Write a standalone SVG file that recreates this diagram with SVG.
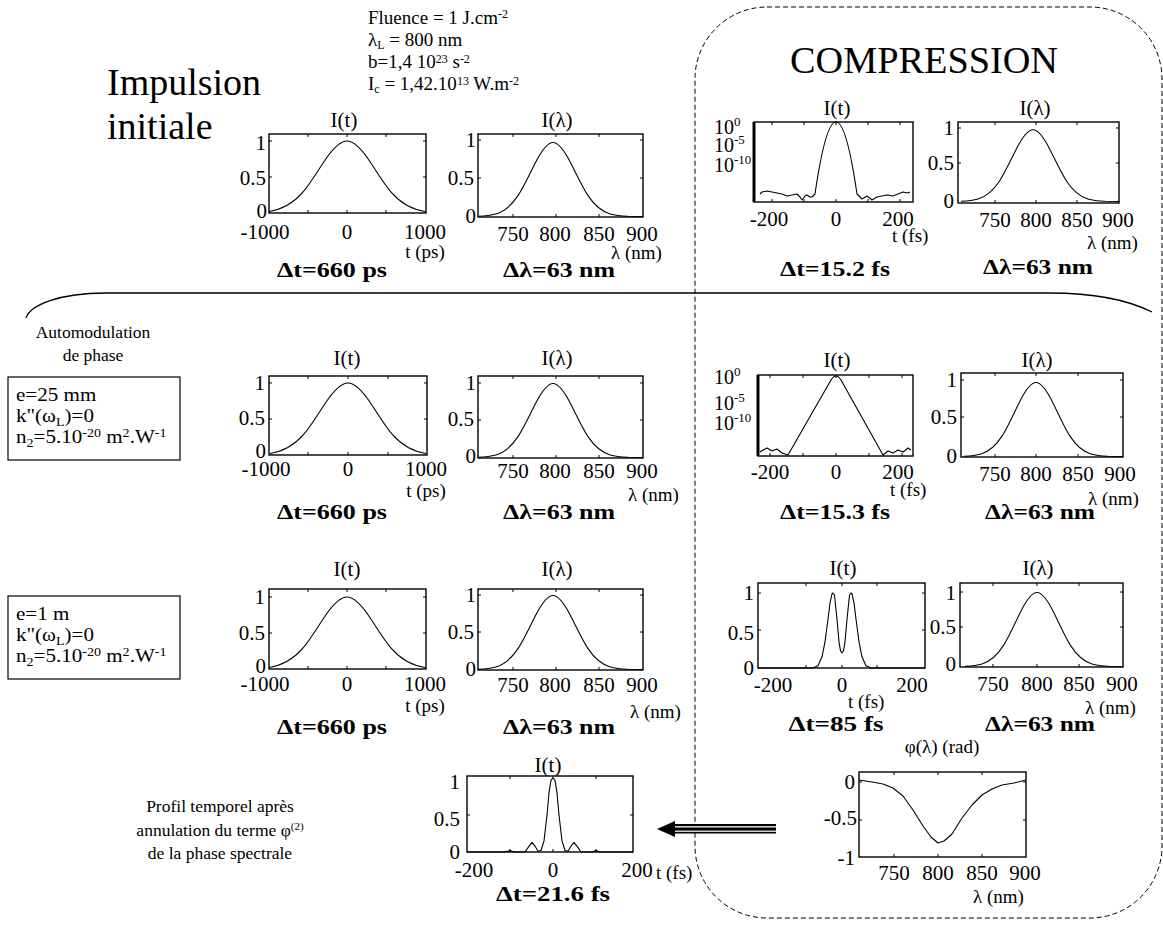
<svg xmlns="http://www.w3.org/2000/svg" width="1163" height="925" viewBox="0 0 1163 925" font-family="'Liberation Serif', 'DejaVu Serif', serif">
<style>
text{font-family:'Liberation Serif','DejaVu Serif','Noto Serif',serif;fill:#000}
.tl{font-size:20px}
.tc{font-size:21px;text-anchor:middle}
.te{font-size:21px;text-anchor:end}
.ti{font-size:21px;text-anchor:middle}
.ax{font-size:19px}
.axc{font-size:19px;text-anchor:middle}
.bd{font-size:20px;font-weight:bold;text-anchor:middle}
.nt{font-size:19px}
.bt{font-size:18px}
.ntc{font-size:17.5px;text-anchor:middle}
.big{font-size:38px}
.fr{fill:none;stroke:#000;stroke-width:1.4}
.lg{fill:none;stroke:#000;stroke-width:3}
.tk{fill:none;stroke:#000;stroke-width:1}
.cv{fill:none;stroke:#000;stroke-width:1.1;stroke-linejoin:round}
.bx{fill:#fff;stroke:#000;stroke-width:1.2}
.sep{fill:none;stroke:#000;stroke-width:1.3}
.dash{fill:none;stroke:#000;stroke-width:1;stroke-dasharray:5,3}
</style>
<defs>
<path id="gT" d="M-78,-1.49 C-66.93,-3.12 -55.87,-7.36 -44.8,-20.02 C-37.33,-28.56 -29.87,-41.13 -22.4,-52.28 C-14.93,-63.43 -7.47,-72 0,-72 C7.47,-72 14.93,-63.43 22.4,-52.28 C29.87,-41.13 37.33,-28.56 44.8,-20.02 C55.87,-7.36 66.93,-3.12 78,-1.49"/>
<path id="gL" d="M-75,-0.2 C-69.07,-0.42 -63.13,-0.75 -57.2,-2.52 C-49.87,-4.70 -42.53,-9.6 -35.2,-20.57 C-29.33,-29.35 -23.47,-42.27 -17.6,-53.73 C-11.73,-65.19 -5.87,-74 0,-74 C5.87,-74 11.73,-65.19 17.6,-53.73 C23.47,-42.27 29.33,-29.35 35.2,-20.57 C42.53,-9.6 49.87,-4.70 57.2,-2.52 C63.13,-0.75 69.07,-0.42 75,-0.2 L90,0"/>
</defs>

<g id="compression-region">
<rect class="dash" x="695" y="7" width="467" height="911" rx="72" ry="72"/>
<text class="big" x="790" y="73" textLength="268" lengthAdjust="spacingAndGlyphs">COMPRESSION</text>
</g>

<g id="title-initial">
<text class="big" x="107" y="95">Impulsion</text>
<text class="big" x="107" y="139">initiale</text>
</g>

<g id="params">
<text class="nt" x="368" y="24">Fluence = 1 J.cm<tspan dy="-6" font-size="12">-2</tspan></text>
<text class="nt" x="368" y="46">λ<tspan dy="3" font-size="12">L</tspan><tspan dy="-3"> = 800 nm</tspan></text>
<text class="nt" x="368" y="68">b=1,4 10<tspan dy="-5" font-size="12">23</tspan><tspan dy="5"> s</tspan><tspan dy="-5" font-size="12">-2</tspan></text>
<text class="nt" x="368" y="90">I<tspan dy="3" font-size="12">c</tspan><tspan dy="-3"> = 1,42.10</tspan><tspan dy="-5" font-size="12">13</tspan><tspan dy="5"> W.m</tspan><tspan dy="-5" font-size="12">-2</tspan></text>
</g>

<!-- Row 1 -->
<g id="plot-r1-It">
<text class="ti" x="344" y="127">I(t)</text>
<rect class="fr" x="269" y="134" width="157" height="79"/>
<path class="tk" d="M308,134v3M347,134v3M386,134v3M308,213v-3M347,213v-3M386,213v-3M269,177h3M269,141h3M426,177h-3M426,141h-3"/>
<use href="#gT" x="347" y="213" class="cv"/>
<text class="te" x="266" y="150">1</text>
<text class="te" x="266" y="185">0.5</text>
<text class="te" x="267" y="218">0</text>
<text class="tc" x="265" y="239">-1000</text>
<text class="tc" x="347" y="239">0</text>
<text class="tc" x="425" y="239">1000</text>
<text class="axc" x="425" y="258">t (ps)</text>
<text class="bd" x="332" y="277" textLength="110" lengthAdjust="spacingAndGlyphs">Δt=660 ps</text>
</g>

<g id="plot-r1-Il">
<text class="ti" x="557" y="127">I(λ)</text>
<rect class="fr" x="478" y="134" width="165" height="83"/>
<path class="tk" d="M513,134v3M556,134v3M599,134v3M513,217v-3M556,217v-3M599,217v-3M478,178h3M478,140h3M643,178h-3M643,140h-3"/>
<use href="#gL" x="553" y="216.5" class="cv"/>
<text class="te" x="476" y="147">1</text>
<text class="te" x="474" y="185">0.5</text>
<text class="te" x="476" y="223">0</text>
<text class="tc" x="513" y="241">750</text>
<text class="tc" x="555" y="241">800</text>
<text class="tc" x="599" y="241">850</text>
<text class="tc" x="642" y="241">900</text>
<text class="ax" x="611" y="259">λ (nm)</text>
<text class="bd" x="559" y="277" textLength="112" lengthAdjust="spacingAndGlyphs">Δλ=63 nm</text>
</g>

<g id="plot-c1-It">
<text class="ti" x="837" y="115">I(t)</text>
<rect class="fr" x="754" y="122" width="159" height="80"/>
<line class="lg" x1="754" y1="122" x2="754" y2="202"/>
<path class="tk" d="M772,122v3M804,122v3M836,122v3M868,122v3M900,122v3M772,202v-3M804,202v-3M836,202v-3M868,202v-3M900,202v-3"/>
<path class="cv" d="M760,194 L762,192 L767,191 L772,192 L777,193 L782,194 L787,196 L792,195 L797,194 L800,197 L802,200 L805,196 L807,195 L810,197 L812,197 L815,194 C822,146 829,122 836,122 C843,122 850,146 857,194 L862,199 L867,196 L872,200 L877,197 L882,196 L887,195 L893,196 L898,194 L903,192 L908,193 L910,192"/>
<text class="tl" x="714" y="134">10<tspan dy="-8" font-size="13">0</tspan></text>
<text class="tl" x="714" y="152">10<tspan dy="-8" font-size="13">-5</tspan></text>
<text class="tl" x="714" y="172">10<tspan dy="-8" font-size="13">-10</tspan></text>
<text class="tc" x="769" y="226">-200</text>
<text class="tc" x="836" y="226">0</text>
<text class="tc" x="898" y="226">200</text>
<text class="ax" x="892" y="242">t (fs)</text>
<text class="bd" x="835" y="276" textLength="110" lengthAdjust="spacingAndGlyphs">Δt=15.2 fs</text>
</g>

<g id="plot-c1-Il">
<text class="ti" x="1035" y="115">I(λ)</text>
<rect class="fr" x="958" y="122" width="161" height="81"/>
<path class="tk" d="M995,122v3M1036,122v3M1077,122v3M995,203v-3M1036,203v-3M1077,203v-3M958,163h3M958,128h3M1119,163h-3M1119,128h-3"/>
<use href="#gL" transform="translate(1033,201.5) scale(0.96,0.97)" class="cv"/>
<text class="te" x="954" y="135">1</text>
<text class="te" x="954" y="170">0.5</text>
<text class="te" x="954" y="208">0</text>
<text class="tc" x="995" y="227">750</text>
<text class="tc" x="1036" y="227">800</text>
<text class="tc" x="1077" y="227">850</text>
<text class="tc" x="1118" y="227">900</text>
<text class="ax" x="1087" y="249">λ (nm)</text>
<text class="bd" x="1038" y="274" textLength="110" lengthAdjust="spacingAndGlyphs">Δλ=63 nm</text>
</g>

<!-- Row 2 -->
<g id="label-automodulation">
<text class="ntc" x="93" y="338">Automodulation</text>
<text class="ntc" x="93" y="361">de phase</text>
</g>

<g id="box-25mm">
<rect class="bx" x="8" y="377" width="172" height="83"/>
<g transform="translate(16,0) scale(1.17,1) translate(-16,0)">
<text class="bt" x="16" y="401">e=25 mm</text>
<text class="bt" x="16" y="422">k"(ω<tspan dy="4" font-size="12">L</tspan><tspan dy="-4">)=0</tspan></text>
<text class="bt" x="16" y="443">n<tspan dy="4" font-size="12">2</tspan><tspan dy="-4">=5.10</tspan><tspan dy="-6" font-size="12">-20</tspan><tspan dy="6"> m</tspan><tspan dy="-6" font-size="12">2</tspan><tspan dy="6">.W</tspan><tspan dy="-6" font-size="12">-1</tspan></text>
</g>
</g>

<g id="plot-r2-It">
<text class="ti" x="347" y="365">I(t)</text>
<rect class="fr" x="269" y="376" width="158" height="79"/>
<path class="tk" d="M308,376v3M348,376v3M388,376v3M308,455v-3M348,455v-3M388,455v-3M269,419h3M269,383h3M427,419h-3M427,383h-3"/>
<use href="#gT" x="348" y="455" class="cv"/>
<text class="te" x="265" y="390">1</text>
<text class="te" x="265" y="425">0.5</text>
<text class="te" x="266" y="458">0</text>
<text class="tc" x="266" y="476">-1000</text>
<text class="tc" x="348" y="476">0</text>
<text class="tc" x="426" y="476">1000</text>
<text class="axc" x="426" y="497">t (ps)</text>
<text class="bd" x="332" y="519" textLength="110" lengthAdjust="spacingAndGlyphs">Δt=660 ps</text>
</g>

<g id="plot-r2-Il">
<text class="ti" x="557" y="365">I(λ)</text>
<rect class="fr" x="478" y="376" width="165" height="82"/>
<path class="tk" d="M513,376v3M556,376v3M599,376v3M513,458v-3M556,458v-3M599,458v-3M478,420h3M478,383h3M643,420h-3M643,383h-3"/>
<use href="#gL" x="553" y="457.5" class="cv"/>
<text class="te" x="476" y="390">1</text>
<text class="te" x="474" y="426">0.5</text>
<text class="te" x="476" y="463">0</text>
<text class="tc" x="513" y="478">750</text>
<text class="tc" x="555" y="478">800</text>
<text class="tc" x="599" y="478">850</text>
<text class="tc" x="642" y="478">900</text>
<text class="ax" x="628" y="501">λ (nm)</text>
<text class="bd" x="559" y="519" textLength="112" lengthAdjust="spacingAndGlyphs">Δλ=63 nm</text>
</g>

<g id="plot-c2-It">
<text class="ti" x="837" y="367">I(t)</text>
<rect class="fr" x="758" y="375" width="155" height="81"/>
<line class="lg" x1="758" y1="375" x2="758" y2="456"/>
<path class="tk" d="M770,375v3M803,375v3M836,375v3M869,375v3M902,375v3M770,456v-3M803,456v-3M836,456v-3M869,456v-3M902,456v-3"/>
<path class="cv" d="M760,452 L763,450 L767,448 L772,451 L777,449 L782,453 L788,455 L831,380 Q836,372 841,380 L883,455 L888,451 L893,453 L898,450 L903,452 L908,448 L911,450"/>
<text class="tl" x="714" y="384">10<tspan dy="-8" font-size="13">0</tspan></text>
<text class="tl" x="714" y="410">10<tspan dy="-8" font-size="13">-5</tspan></text>
<text class="tl" x="714" y="430">10<tspan dy="-8" font-size="13">-10</tspan></text>
<text class="tc" x="770" y="479">-200</text>
<text class="tc" x="836" y="479">0</text>
<text class="tc" x="898" y="479">200</text>
<text class="ax" x="890" y="496">t (fs)</text>
<text class="bd" x="835" y="519" textLength="110" lengthAdjust="spacingAndGlyphs">Δt=15.3 fs</text>
</g>

<g id="plot-c2-Il">
<text class="ti" x="1037" y="367">I(λ)</text>
<rect class="fr" x="961" y="373" width="162" height="84"/>
<path class="tk" d="M995,373v3M1036,373v3M1078,373v3M995,457v-3M1036,457v-3M1078,457v-3M961,417h3M961,380h3M1123,417h-3M1123,380h-3"/>
<use href="#gL" transform="translate(1036,456.5) scale(0.96,1)" class="cv"/>
<text class="te" x="957" y="387">1</text>
<text class="te" x="957" y="424">0.5</text>
<text class="te" x="957" y="463">0</text>
<text class="tc" x="995" y="481">750</text>
<text class="tc" x="1036" y="481">800</text>
<text class="tc" x="1078" y="481">850</text>
<text class="tc" x="1120" y="481">900</text>
<text class="ax" x="1088" y="505">λ (nm)</text>
<text class="bd" x="1040" y="519" textLength="110" lengthAdjust="spacingAndGlyphs">Δλ=63 nm</text>
</g>

<!-- Row 3 -->
<g id="box-1m">
<rect class="bx" x="8" y="596" width="172" height="83"/>
<g transform="translate(16,0) scale(1.17,1) translate(-16,0)">
<text class="bt" x="16" y="620">e=1 m</text>
<text class="bt" x="16" y="641">k"(ω<tspan dy="4" font-size="12">L</tspan><tspan dy="-4">)=0</tspan></text>
<text class="bt" x="16" y="662">n<tspan dy="4" font-size="12">2</tspan><tspan dy="-4">=5.10</tspan><tspan dy="-6" font-size="12">-20</tspan><tspan dy="6"> m</tspan><tspan dy="-6" font-size="12">2</tspan><tspan dy="6">.W</tspan><tspan dy="-6" font-size="12">-1</tspan></text>
</g>
</g>

<g id="plot-r3-It">
<text class="ti" x="347" y="576">I(t)</text>
<rect class="fr" x="269" y="589" width="157" height="80"/>
<path class="tk" d="M308,589v3M347,589v3M386,589v3M308,669v-3M347,669v-3M386,669v-3M269,633h3M269,597h3M426,633h-3M426,597h-3"/>
<use href="#gT" x="347" y="669" class="cv"/>
<text class="te" x="265" y="604">1</text>
<text class="te" x="265" y="640">0.5</text>
<text class="te" x="266" y="673">0</text>
<text class="tc" x="265" y="691">-1000</text>
<text class="tc" x="347" y="691">0</text>
<text class="tc" x="425" y="691">1000</text>
<text class="axc" x="425" y="712">t (ps)</text>
<text class="bd" x="332" y="734" textLength="110" lengthAdjust="spacingAndGlyphs">Δt=660 ps</text>
</g>

<g id="plot-r3-Il">
<text class="ti" x="557" y="576">I(λ)</text>
<rect class="fr" x="478" y="589" width="165" height="81"/>
<path class="tk" d="M513,589v3M556,589v3M599,589v3M513,670v-3M556,670v-3M599,670v-3M478,632h3M478,595h3M643,632h-3M643,595h-3"/>
<use href="#gL" x="553" y="669.5" class="cv"/>
<text class="te" x="476" y="602">1</text>
<text class="te" x="474" y="639">0.5</text>
<text class="te" x="476" y="676">0</text>
<text class="tc" x="513" y="692">750</text>
<text class="tc" x="555" y="692">800</text>
<text class="tc" x="599" y="692">850</text>
<text class="tc" x="642" y="692">900</text>
<text class="ax" x="630" y="718">λ (nm)</text>
<text class="bd" x="559" y="734" textLength="112" lengthAdjust="spacingAndGlyphs">Δλ=63 nm</text>
</g>

<g id="plot-c3-It">
<text class="ti" x="843" y="575">I(t)</text>
<rect class="fr" x="758" y="583" width="167" height="85"/>
<path class="tk" d="M806,583v3M842,583v3M877,583v3M806,668v-3M842,668v-3M877,668v-3M758,630h3M758,593h3M925,630h-3M925,593h-3"/>
<path class="cv" d="M758,668 L813,668 L818,665.8 L822,656.8 L825,641.8 L828,619.3 L830,602.8 L832,593.8 L833,593 L834.5,595.3 L837,619.3 L839,641.8 L840.5,650.8 L842,653 L843.5,650.8 L845,641.8 L847,619.3 L849.5,595.3 L851,593 L852,593.8 L854,602.8 L856,619.3 L859,641.8 L862,656.8 L866,665.8 L871,668 L925,668"/>
<text class="te" x="754" y="600">1</text>
<text class="te" x="754" y="640">0.5</text>
<text class="te" x="754" y="675">0</text>
<text class="tc" x="773" y="692">-200</text>
<text class="tc" x="842" y="692">0</text>
<text class="tc" x="912" y="692">200</text>
<text class="ax" x="848" y="708">t (fs)</text>
<text class="bd" x="836" y="731" textLength="95" lengthAdjust="spacingAndGlyphs">Δt=85 fs</text>
</g>

<g id="plot-c3-Il">
<text class="ti" x="1038" y="575">I(λ)</text>
<rect class="fr" x="960" y="583" width="163" height="84"/>
<path class="tk" d="M993,583v3M1037,583v3M1079,583v3M993,667v-3M1037,667v-3M1079,667v-3M960,627h3M960,592h3M1123,627h-3M1123,592h-3"/>
<use href="#gL" transform="translate(1037,666.5) scale(0.96,1)" class="cv"/>
<text class="te" x="956" y="600">1</text>
<text class="te" x="956" y="634">0.5</text>
<text class="te" x="956" y="671">0</text>
<text class="tc" x="993" y="691">750</text>
<text class="tc" x="1037" y="691">800</text>
<text class="tc" x="1079" y="691">850</text>
<text class="tc" x="1122" y="691">900</text>
<text class="ax" x="1085" y="714">λ (nm)</text>
<text class="bd" x="1040" y="731" textLength="110" lengthAdjust="spacingAndGlyphs">Δλ=63 nm</text>
</g>

<!-- Bottom -->
<g id="plot-phase">
<text class="axc" x="942" y="753">φ(λ) (rad)</text>
<rect class="fr" x="859" y="772" width="167" height="85"/>
<path class="tk" d="M894,772v3M938,772v3M982,772v3M894,857v-3M938,857v-3M982,857v-3M859,820h3M1026,820h-3M859,782h3M1026,782h-3"/>
<polyline class="cv" points="859,780 872,782 883,784 893,788 903,796 913,810 923,826 931,837 938,843 944,841 952,834 962,818 972,805 982,795 992,789 1002,785 1014,783 1026,780"/>
<text class="te" x="855" y="789">0</text>
<text class="te" x="857" y="825">-0.5</text>
<text class="te" x="855" y="865">-1</text>
<text class="tc" x="894" y="880">750</text>
<text class="tc" x="938" y="880">800</text>
<text class="tc" x="982" y="880">850</text>
<text class="tc" x="1025" y="880">900</text>
<text class="ax" x="973" y="903">λ (nm)</text>
</g>

<g id="label-profil">
<text class="ntc" x="220" y="812">Profil temporel après</text>
<text class="ntc" x="220" y="836">annulation du terme φ<tspan dy="-6" font-size="11">(2)</tspan></text>
<text class="ntc" x="220" y="859">de la phase spectrale</text>
</g>

<g id="plot-final-It">
<text class="ti" x="548" y="772">I(t)</text>
<rect class="fr" x="467" y="776" width="166" height="76"/>
<path class="tk" d="M510,776v3M553,776v3M596,776v3M510,852v-3M553,852v-3M596,852v-3M467,815h3M633,815h-3"/>
<polyline class="cv" points="467,852 505,852 510,850.5 514,852 525,852 528,847.6 532,842.4 535,846.1 538,851.3 541,850.5 544,840.9 547,815 549,792.8 551,780.2 553,778 555,780.2 557,792.8 559,815 562,840.9 565,850.5 568,851.3 571,846.1 574,842.4 578,847.6 581,852 592,852 596,850.5 600,852 633,852"/>
<text class="te" x="460" y="789">1</text>
<text class="te" x="460" y="826">0.5</text>
<text class="te" x="460" y="859">0</text>
<text class="tc" x="474" y="877">-200</text>
<text class="tc" x="553" y="877">0</text>
<text class="tc" x="637" y="877">200</text>
<text class="ax" x="656" y="879">t (fs)</text>
<text class="bd" x="553" y="901" textLength="114" lengthAdjust="spacingAndGlyphs">Δt=21.6 fs</text>
</g>

<g id="connectors">
<path class="sep" d="M26,318 C30,305 60,293 105,293 L1050,293 C1100,293 1130,301 1152,312"/>
<g id="arrow">
<polygon points="657,829 675,821 675,837" fill="#000"/>
<rect x="675" y="824" width="101" height="9.5" fill="#000"/>
<rect x="675" y="826.2" width="101" height="1.3" fill="#fff"/>
<rect x="675" y="830.6" width="101" height="1.2" fill="#fff"/>
</g>
</g>
</svg>
